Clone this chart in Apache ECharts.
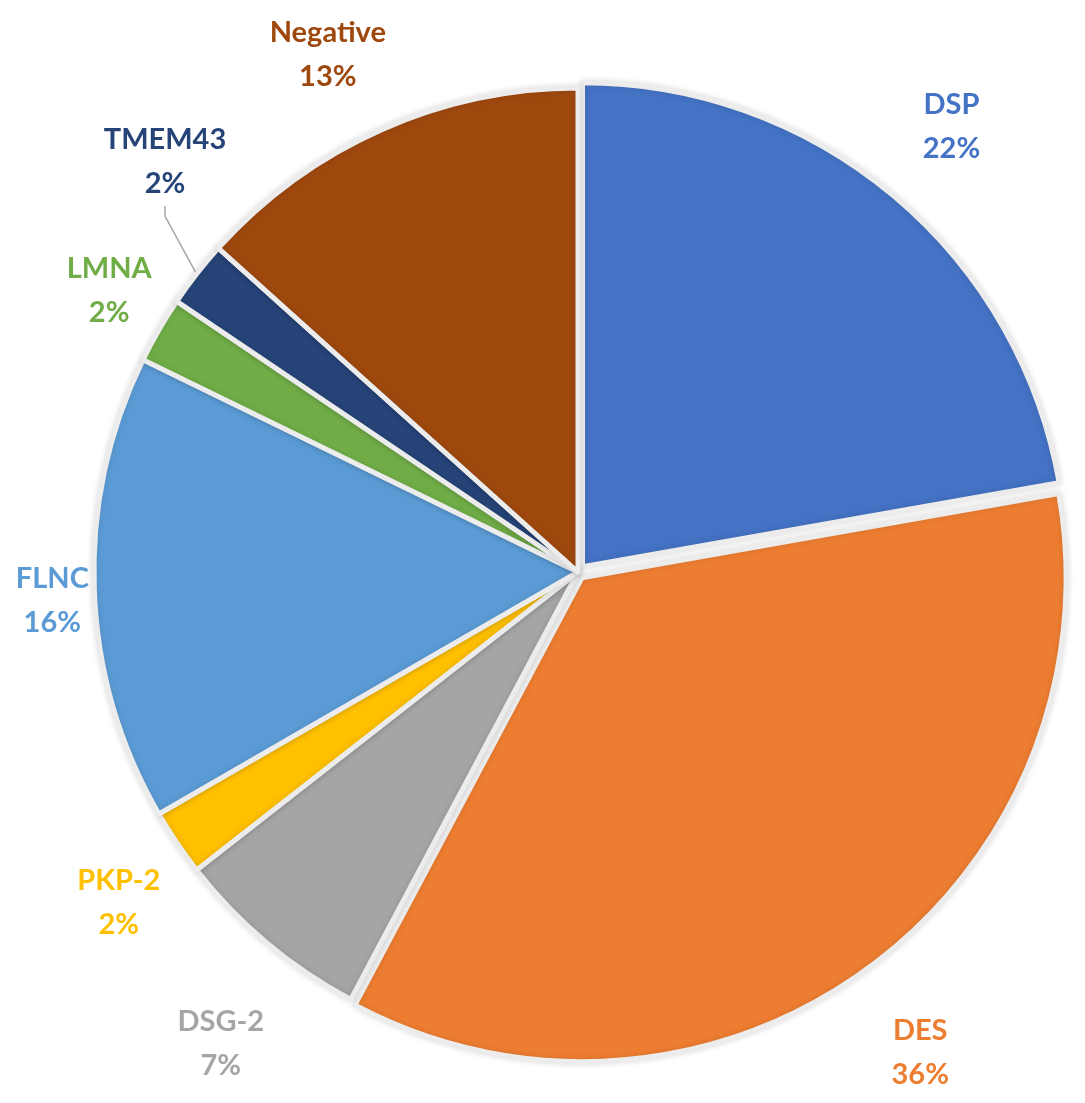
<!DOCTYPE html>
<html>
<head>
<meta charset="utf-8">
<script src="https://cdn.jsdelivr.net/npm/echarts@6/dist/echarts.min.js"></script>
<style>
  html, body { margin: 0; padding: 0; background: #fff; }
  #chart { width: 1085px; height: 1103px; }
</style>
</head>
<body>
<div id="chart"></div>
<script>
// patient counts per gene (45 in total), clockwise from 12 o'clock
const genes = ["DSP", "DES", "DSG-2", "PKP-2", "FLNC", "LMNA", "TMEM43", "Negative"];
const counts = [10, 16, 3, 1, 7, 1, 1, 6];
const exploded = ["DSP", "DES"];

const palette = ["#4472C4", "#ED7D31", "#A5A5A5", "#FFC000", "#5B9BD5", "#70AD47", "#264478", "#9E480E"];
// how far each label sits outside the rim, plus a small hand nudge
const labelGap = [90, 98, 106, 82, 46, 62, 60, 82];
const labelNudge = [[0, 0], [-4, 4], [22, 20], [10, 14], [4, 10], [4, -8], [0, 0], [-20, 0]];

const chart = echarts.init(document.getElementById("chart"), null, { renderer: "canvas" });

const data = genes.map((g, i) => ({
  name: g,
  value: counts[i],
  selected: exploded.includes(g),
  itemStyle: { color: palette[i] },
  label: { color: palette[i] },
  labelLine: g === "TMEM43"
    ? { show: true, length: 50, length2: 10, lineStyle: { color: "#a6a6a6", width: 1.5 } }
    : { show: false, length: labelGap[i], length2: 0 }
}));

chart.setOption({
  backgroundColor: "#fff",
  animation: false,
  series: [{
    type: "pie",
    center: [578, 572],
    radius: 484,
    startAngle: 90,
    clockwise: true,
    selectedMode: "multiple",
    selectedOffset: 7,
    avoidLabelOverlap: false,
    percentPrecision: 0,
    itemStyle: {
      borderColor: "#ececec",
      borderWidth: 5,
      shadowBlur: 6,
      shadowColor: "rgba(0,0,0,0.12)"
    },
    emphasis: { disabled: true },
    label: {
      show: true,
      position: "outside",
      formatter: "{b}\n{d}%",
      fontFamily: "Lato",
      fontWeight: "bold",
      fontSize: 29,
      lineHeight: 44,
      distanceToLabelLine: 0
    },
    labelLayout: function (params) {
      const i = params.dataIndex;
      if (genes[i] === "TMEM43") {
        // label parked up-left with its leader running down to the thin slice
        return { x: 165, y: 162, align: "center", verticalAlign: "middle" };
      }
      return { dx: labelNudge[i][0], dy: labelNudge[i][1], align: "center", verticalAlign: "middle" };
    },
    data: data
  }]
});

window.addEventListener("resize", () => chart.resize());
</script>
</body>
</html>
